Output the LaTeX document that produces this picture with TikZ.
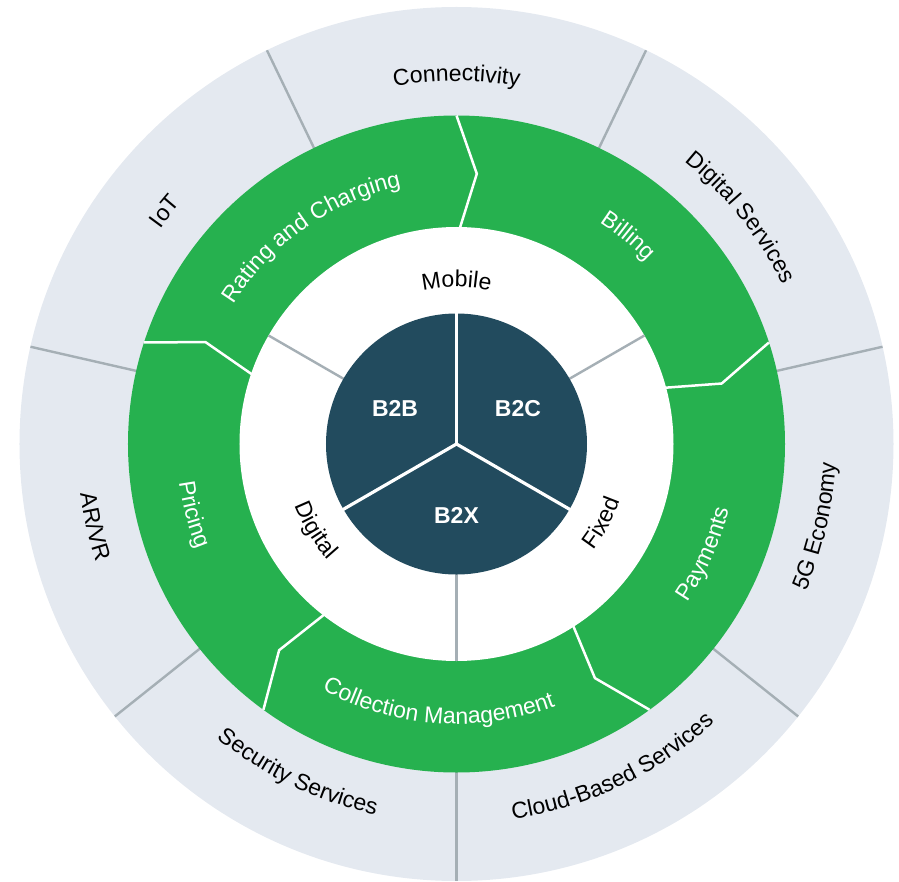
\documentclass[tikz,border=0pt]{standalone}
\usepackage{fontspec}
\setmainfont{Liberation Sans}
\usetikzlibrary{decorations.text}

\definecolor{ringgrey}{HTML}{E4E9F0}
\definecolor{divgrey}{HTML}{A5AFB5}
\definecolor{procgreen}{HTML}{26B14F}
\definecolor{coredark}{HTML}{224B5E}

\newcommand\ringfont{\fontsize{23}{27}\selectfont}

% text set clockwise along an arc (letters stand outward): angle, radius, colour, text
\newcommand\cwlabel[4]{%
  \path[decorate, decoration={text along path, text align=center,
      text={|\ringfont\color{#3}|#4}}]
    ({#1+50}:#2) arc[start angle={#1+50}, end angle={#1-50}, radius=#2];}
% text set counter-clockwise along an arc (letters stand inward)
\newcommand\ccwlabel[4]{%
  \path[decorate, decoration={text along path, text align=center,
      text={|\ringfont\color{#3}|#4}}]
    ({#1-50}:#2) arc[start angle={#1-50}, end angle={#1+50}, radius=#2];}

\tikzset{
  outerdivider/.style={draw=divgrey, line width=2.4pt},
  chevron/.style={draw=white, line width=2.5pt, line join=miter},
  coresplit/.style={draw=white, line width=3.2pt},
  corelabel/.style={text=white, font=\ringfont\bfseries, inner sep=0pt},
}

\begin{document}
\begin{tikzpicture}[x=1pt, y=1pt]
\useasboundingbox (-456.5,-437) rectangle (442.5,444);

% outer ring of market segments
\fill[ringgrey] (0,0) circle[radius=437];
\foreach \a in {115.71,64.29,12.86,-38.57,-90,-141.43,167.14}
  \draw[outerdivider] (\a:326) -- (\a:437);

% process ring
\fill[procgreen] (0,0) circle[radius=328.5];
\fill[white] (0,0) circle[radius=217];

% network ring dividers
\foreach \a in {150,30,-90}
  \draw[outerdivider] (\a:128) -- (\a:217);

% chevron boundaries between the process steps
\draw[chevron] (90:328.5)  -- (85.7:271)  -- (89.1:216);
\draw[chevron] (18:328.5)  -- (12.85:272) -- (15.1:216);
\draw[chevron] (-54:328.5) -- (-59.4:272) -- (-57.3:216);
\draw[chevron] (234:328.5) -- (229.3:272) -- (232.2:216);
\draw[chevron] (162:328.5) -- (157.9:271) -- (161.2:216);

% customer core
\fill[coredark] (0,0) circle[radius=130.5];
\foreach \a in {90,210,330}
  \draw[coresplit] (0,0) -- (\a:131);

\node[corelabel] (b2b) at (150:71) {B2B};
\node[corelabel] (b2c) at (30:71) {B2C};
\node[corelabel] (b2x) at (-90:71.5) {B2X};

% network labels
\cwlabel{90}{157}{black}{Mobile}
\ccwlabel{-28.5}{173}{black}{Fixed}
\ccwlabel{211.5}{173}{black}{Digital}

% process labels
\cwlabel{125}{263.5}{white}{Rating and Charging}
\cwlabel{50.5}{263.5}{white}{Billing}
\ccwlabel{-24}{280}{white}{Payments}
\ccwlabel{266}{280}{white}{Collection Management}
\ccwlabel{195}{280}{white}{Pricing}

% market labels
\cwlabel{90}{363}{black}{Connectivity}
\cwlabel{38.57}{363}{black}{Digital Services}
\cwlabel{141.43}{366}{black}{IoT}
\ccwlabel{-12.86}{379.5}{black}{5G Economy}
\ccwlabel{-64.29}{379.5}{black}{Cloud-Based Services}
\ccwlabel{-115.71}{379.5}{black}{Security Services}
\ccwlabel{192.86}{379.5}{black}{AR/VR}
\end{tikzpicture}
\end{document}
